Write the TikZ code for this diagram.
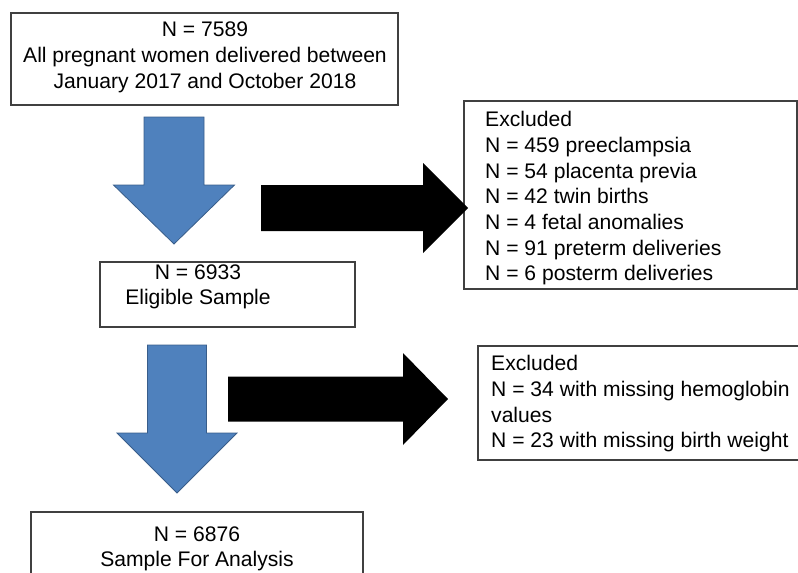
\documentclass[tikz,border=0pt]{standalone}
\usepackage{fontspec}
\setmainfont{Liberation Sans}
\usepackage{xcolor}
\usepackage{tikz}
\usetikzlibrary{positioning}

\definecolor{flowblue}{HTML}{4F81BD}
\definecolor{flowedge}{HTML}{385D8A}

\begin{document}
\begin{tikzpicture}[x=1pt, y=-1pt,
  box/.style={rectangle, draw=black!75, line width=1.1pt, inner sep=0pt},
  txt/.style={inner sep=0pt, align=center, font=\fontsize{21.1}{25.7}\selectfont},
  list/.style={txt, align=left, anchor=west},
  bluearrow/.style={fill=flowblue, draw=flowedge, line width=0.8pt},
  blackarrow/.style={fill=black}
]
  \useasboundingbox (0,0) rectangle (798,573);
  \clip (0,0) rectangle (798,573);

  % boxes
  \node[box, minimum width=387, minimum height=92] (total) at (204.5,59) {};
  \node[box, minimum width=255, minimum height=65] (eligible) at (227.5,294.5) {};
  \node[box, minimum width=332, minimum height=73] (analysis) at (197,548.5) {};
  \node[box, minimum width=333, minimum height=188] (excl1) at (630.5,195) {};
  \node[box, minimum width=342, minimum height=114] (excl2) at (649,403) {};

  % texts
  \node[txt] (total-txt) at (205,57.3) {N = 7589\\All pregnant women delivered between\\January 2017 and October 2018};
  \node[txt] (eligible-txt) at (198,286.7) {N = 6933\\Eligible Sample};
  \node[txt] (analysis-txt) at (197,548.7) {N = 6876\\Sample For Analysis};
  \node[list] (excl1-txt) at (485,198.3) {Excluded\\N = 459 preeclampsia\\N = 54 placenta previa\\N = 42 twin births\\N = 4 fetal anomalies\\N = 91 preterm deliveries\\N = 6 posterm deliveries};
  \node[list] (excl2-txt) at (491,403.8) {Excluded\\N = 34 with missing hemoglobin\\values\\N = 23 with missing birth weight};

  % block arrows
  \filldraw[bluearrow] (144,117) -- (204,117) -- (204,185) -- (234.5,185) -- (174,244)
    -- (113.5,185) -- (144,185) -- cycle;
  \filldraw[bluearrow] (147.5,345) -- (206.5,345) -- (206.5,433) -- (237,433) -- (177,493)
    -- (117,433) -- (147.5,433) -- cycle;
  \fill[blackarrow] (261,185) -- (423,185) -- (423,163) -- (468,208) -- (423,253)
    -- (423,231) -- (261,231) -- cycle;
  \fill[blackarrow] (228,376.5) -- (403,376.5) -- (403,353) -- (448,399) -- (403,445)
    -- (403,421.5) -- (228,421.5) -- cycle;
\end{tikzpicture}
\end{document}
